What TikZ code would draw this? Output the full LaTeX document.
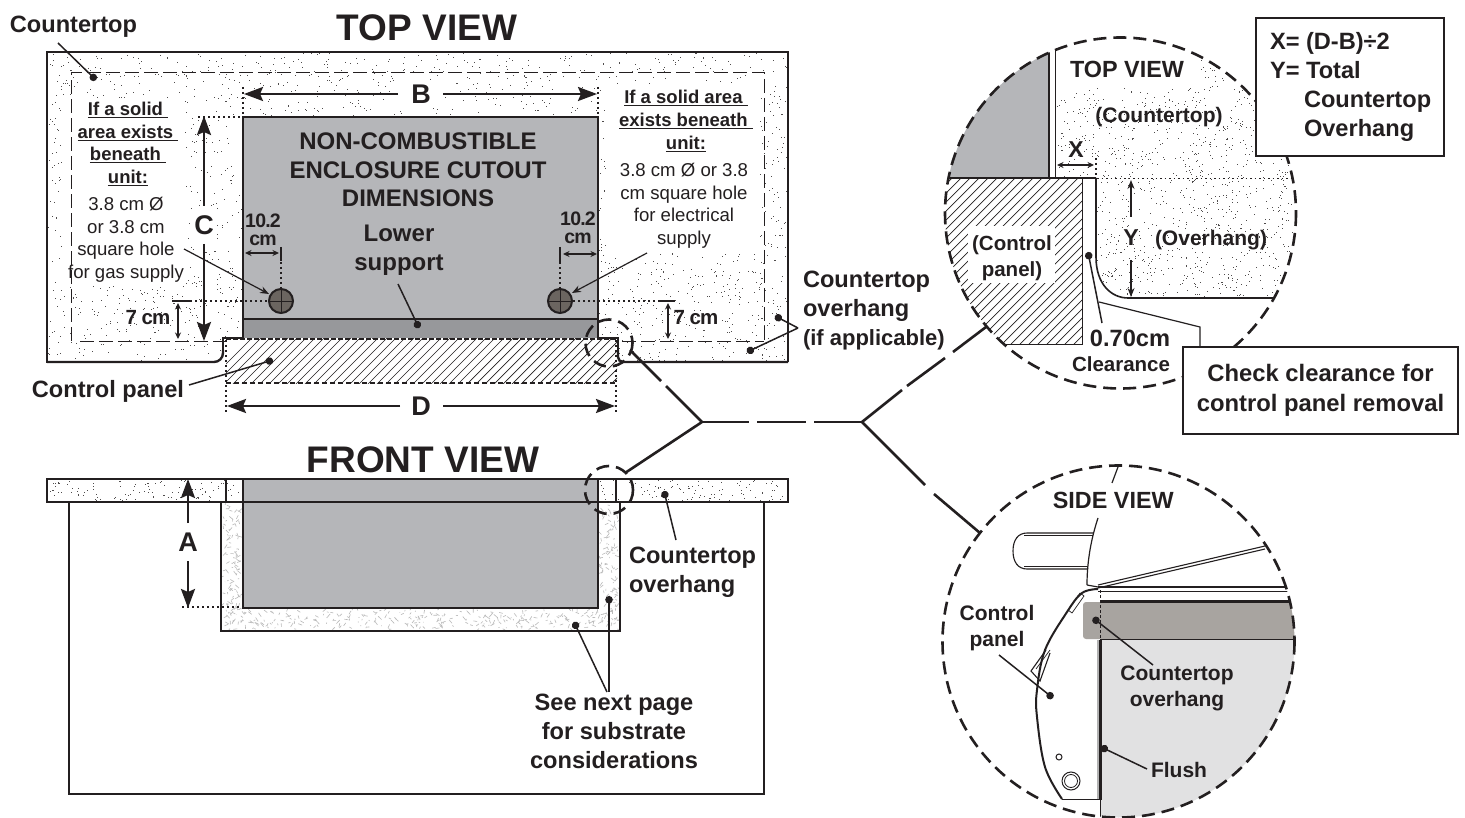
\documentclass[tikz,border=0pt]{standalone}
\usepackage{fontspec}
\setmainfont{Liberation Sans}
\usetikzlibrary{arrows.meta,calc}
\definecolor{ink}{HTML}{231F20}
\definecolor{encl}{HTML}{B5B6B9}
\definecolor{supp}{HTML}{97989B}
\definecolor{holec}{HTML}{6B6560}
\definecolor{band}{HTML}{A8A4A0}
\definecolor{lgray}{HTML}{E1E1E2}
\newcommand\fsz[2]{\fontsize{#1}{#2}\selectfont}
\newcommand\tight[1]{\addfontfeature{LetterSpace=#1}}
\newcommand\stipplebox[5]{%
  \foreach \i in {1,...,#5}{%
    \pgfmathsetmacro\px{#1+rnd*(#3-#1)}%
    \pgfmathsetmacro\py{#2+rnd*(#4-#2)}%
    \fill[ink!80] (\px,\py) rectangle +(1,1);}}
\newcommand\fibrebox[5]{%
  \foreach \i in {1,...,#5}{%
    \pgfmathsetmacro\px{#1+rnd*(#3-#1)}%
    \pgfmathsetmacro\py{#2+rnd*(#4-#2)}%
    \pgfmathsetmacro\qx{rnd*8-4}%
    \pgfmathsetmacro\qy{rnd*8-4}%
    \draw[gray!55,line width=.6pt] (\px,\py) -- +(\qx,\qy);}}
\tikzset{
  x=1pt,y=-1pt,
  every node/.style={inner sep=0pt,outer sep=0pt,text=ink},
  ttl/.style={font=\fsz{37}{44}\bfseries},
  big/.style={font=\fsz{27}{32}\bfseries},
  lab/.style={font=\fsz{23.6}{29}\bfseries,align=center},
  labl/.style={font=\fsz{23.6}{29}\bfseries,align=left},
  encltxt/.style={font=\fsz{24}{28.7}\bfseries,align=center},
  headtxt/.style={font=\fsz{18.5}{22.7}\bfseries,align=center},
  regtxt/.style={font=\fsz{18.6}{22.5},align=center},
  dimtxt/.style={font=\fsz{19.5}{18.5}\bfseries\tight{-4},align=center},
  sevencm/.style={font=\fsz{20.5}{22}\bfseries\tight{-5}},
  cir/.style={font=\fsz{21}{26}\bfseries,align=center},
  cirh/.style={font=\fsz{23.4}{28}\bfseries,align=center},
  bigarrow/.style={draw=ink,line width=2.4pt,-{Stealth[length=19pt,width=14pt,inset=3pt]}},
  smalldim/.style={draw=ink,line width=1.2pt,{Stealth[length=6.5pt,width=6pt]}-{Stealth[length=6.5pt,width=6pt]}},
  thinarrow/.style={draw=ink,line width=1.2pt,-{Stealth[length=9pt,width=7pt]}},
  leader/.style={draw=ink,line width=1.5pt,-{Circle[length=7.5pt]}},
  dotline/.style={draw=ink,line width=2.2pt,dash pattern=on 2pt off 3pt},
  heavy/.style={draw=ink,line width=2.4pt},
  medium/.style={draw=ink,line width=1.6pt},
  inner dash/.style={draw=ink,line width=.9pt,dash pattern=on 14pt off 5pt},
  zoomring/.style={draw=ink,line width=2.6pt,dash pattern=on 13pt off 7pt},
  branch/.style={draw=ink,line width=2.6pt},
  hatchline/.style={draw=ink,line width=.7pt},
}
\begin{document}
\begin{tikzpicture}
\useasboundingbox (0,0) rectangle (1465,818);
\fill[white] (0,0) rectangle (1465,818);
\pgfmathsetseed{4711}

%% ===== TOP VIEW =====
\begin{scope}
  \clip (47,52) rectangle (788,362);
  \stipplebox{47}{52}{788}{362}{3200}
\end{scope}
\fill[white] (62,98) rectangle (185,285);
\fill[white] (606,84) rectangle (760,253);
\fill[white] (398,80) rectangle (443,108);
\fill[white] (192,206) rectangle (217,245);
\fill[white] (224,339) rectangle (617,390);
\fill[white] (617,363) rectangle (640,390);
\fill[white] (205,363) rectangle (224,390);
% enclosure
\fill[encl] (243,117) rectangle (598,338);
\fill[supp] (243,319) rectangle (598,338);
\draw[medium] (243,319) -- (598,319);
\draw[medium] (243,338) -- (243,117) -- (598,117) -- (598,338);
% counter outline
\draw[heavy] (243,338) -- (223,338) -- (223,350);
\draw[heavy,rounded corners=9pt] (223,350) -- (223,362) -- (47,362);
\draw[heavy] (47,363) -- (47,52) -- (788,52) -- (788,362);
\draw[heavy,rounded corners=5pt] (788,362) -- (618,362) -- (618,350);
\draw[heavy] (618,350) -- (618,338) -- (598,338);
% inner dashed outline
\draw[inner dash] (71,341) -- (71,72) -- (764,72) -- (764,341);
\draw[inner dash] (80,341) -- (225,341);
\draw[inner dash] (622,341) -- (764,341);
% hatched panel
\begin{scope}
  \clip (226,339) rectangle (617,383);
  \foreach \k in {0,9,...,460}{\draw[hatchline] (200+\k,390) -- (260+\k,330);}
\end{scope}
\draw[draw=ink,line width=1.8pt,dash pattern=on 5pt off 2pt] (226,339) -- (617,339);
\draw[draw=ink,line width=1.1pt,dash pattern=on 5pt off 3pt] (226,383) -- (617,383);
\draw[dotline] (226,340) -- (226,412);
\draw[dotline] (616,340) -- (616,412);

\node[ttl,anchor=base] (toptitle) at (427,41) {TOP VIEW};
\node[font=\fsz{23.6}{28}\bfseries,anchor=base] (ctlabel) at (73.5,33) {Countertop};
\coordinate (ct1) at (58,43); \coordinate (ct2) at (96,80);
\draw[leader] (ct1) -- (ct2);

% B
\node[big,anchor=center] (bB) at (421,94) {B};
\coordinate (b1) at (398,94); \coordinate (b2) at (244,94);
\coordinate (b3) at (443,94); \coordinate (b4) at (597,94);
\draw[bigarrow] (b1) -- (b2); \draw[bigarrow] (b3) -- (b4);
\draw[dotline] (243,87) -- (243,117);
\draw[dotline] (598,87) -- (598,117);
% C
\node[big,anchor=center] (cC) at (204,225) {C};
\coordinate (c1) at (204,206); \coordinate (c2) at (204,116);
\coordinate (c3) at (204,244); \coordinate (c4) at (204,341);
\draw[bigarrow] (c1) -- (c2); \draw[bigarrow] (c3) -- (c4);
\draw[dotline] (198,117) -- (243,117);
% D
\node[big,anchor=center] (dD) at (421,406) {D};
\coordinate (d1) at (400,406); \coordinate (d2) at (227,406);
\coordinate (d3) at (443,406); \coordinate (d4) at (615,406);
\draw[bigarrow] (d1) -- (d2); \draw[bigarrow] (d3) -- (d4);

% text in the enclosure
\node[encltxt] (encl) at (418,170) {NON-COMBUSTIBLE\\ENCLOSURE CUTOUT\\DIMENSIONS};
\node[lab,font=\fsz{24}{29.5}\bfseries] (lower) at (399,250) {Lower\\support};
\coordinate (ls1) at (398,284); \coordinate (ls2) at (419,328);
\draw[leader] (ls1) -- (ls2);

% holes
\node[circle,draw=ink,line width=2pt,fill=holec,minimum size=24pt] (holeL) at (281,301) {};
\node[circle,draw=ink,line width=2pt,fill=holec,minimum size=24pt] (holeR) at (560,301) {};
\foreach \c in {281,560}{
  \draw[draw=ink,line width=.6pt] (\c-12,301) -- (\c+12,301) (\c,289) -- (\c,313);}
% 10.2
\node[dimtxt] (tenL) at (263,230) {10.2\\cm};
\node[dimtxt] (tenR) at (578,228) {10.2\\cm};
\coordinate (t1a) at (245,253); \coordinate (t1b) at (279,253);
\coordinate (t2a) at (563,254); \coordinate (t2b) at (597,254);
\draw[smalldim] (t1a) -- (t1b);
\draw[smalldim] (t2a) -- (t2b);
\draw[draw=ink,line width=2pt] (281,247) -- (281,261);
\draw[draw=ink,line width=2pt] (560,247) -- (560,262);
\draw[dotline] (281,262) -- (281,288);
\draw[dotline] (560,262) -- (560,288);
% 7 cm
\draw[dotline] (190,301) -- (268,301);
\draw[dotline] (573,301) -- (660,301);
\draw[draw=ink,line width=2pt] (172,301) -- (190,301);
\draw[draw=ink,line width=2pt] (659,301) -- (675,301);
\coordinate (s1a) at (178,303); \coordinate (s1b) at (178,339);
\coordinate (s2a) at (668,303); \coordinate (s2b) at (668,339);
\draw[smalldim] (s1a) -- (s1b);
\draw[smalldim] (s2a) -- (s2b);
\node[sevencm,anchor=base] (sevL) at (148,324.5) {7 cm};
\node[sevencm,anchor=base] (sevR) at (696,325) {7 cm};

% side notes
\node[headtxt] (hdL) at (128,144) {\underline{If a solid\ }\\\underline{area exists\ }\\\underline{beneath\ }\\\underline{unit:}};
\node[regtxt] (rgL) at (126,240) {3.8 cm Ø\\or 3.8 cm\\square hole\\for gas supply};
\node[headtxt] (hdR) at (686,121) {\underline{If a solid area\ }\\\underline{exists beneath\ }\\\underline{unit:}};
\node[regtxt] (rgR) at (684,206) {3.8 cm Ø or 3.8\\cm square hole\\for electrical\\supply};
\coordinate (g1) at (184,249); \coordinate (g2) at (269,294);
\coordinate (e1) at (647,253); \coordinate (e2) at (572,293);
\draw[thinarrow] (g1) -- (g2);
\draw[thinarrow] (e1) -- (e2);

\node[lab,anchor=base] (cp) at (108,397) {Control panel};
\coordinate (cp1) at (189,385); \coordinate (cp2) at (273,360);
\draw[leader] (cp1) -- (cp2);

\node[labl,anchor=west] (coh) at (803,311) {Countertop\\overhang\\{\fsz{22}{29}\bfseries(if applicable)}};
\coordinate (co0) at (798,328); \coordinate (co1) at (775,316); \coordinate (co2) at (747,352);
\draw[leader] (co0) -- (co1);
\draw[leader] (co0) -- (co2);

%% ===== FRONT VIEW =====
\node[ttl,anchor=base] (fronttitle) at (423,472) {FRONT VIEW};
\begin{scope}
  \clip (47,479) rectangle (788,502);
  \stipplebox{47}{479}{788}{502}{420}
\end{scope}
\fibrebox{223}{504}{241}{629}{110}
\fibrebox{600}{504}{618}{629}{110}
\fibrebox{225}{610}{618}{629}{300}
\fill[white] (215,630.5) rectangle (630,640);
\fill[white] (212,503) rectangle (220,640);
\fill[white] (621,503) rectangle (630,640);
\fill[encl] (243,479) rectangle (598,608);
\draw[medium] (69,502) -- (69,794) -- (764,794) -- (764,502);
\draw[heavy] (221,502) -- (221,631) -- (620,631) -- (620,502);
\draw[medium] (243,480) -- (243,608) -- (598,608) -- (598,480);
\draw[heavy] (47,479) -- (788,479) -- (788,502) -- (47,502) -- cycle;
\draw[draw=ink,line width=1.2pt] (226,479) -- (226,502);
\draw[draw=ink,line width=1.2pt] (616,479) -- (616,502);

\node[big,anchor=center] (aA) at (188,542) {A};
\coordinate (a1) at (188,523); \coordinate (a2) at (188,479);
\coordinate (a3) at (188,561); \coordinate (a4) at (188,608);
\draw[bigarrow] (a1) -- (a2); \draw[bigarrow] (a3) -- (a4);
\draw[dotline] (182,607) -- (243,607);

\node[labl,anchor=west] (coh2) at (629,572) {Countertop\\overhang};
\coordinate (fc1) at (676,540); \coordinate (fc2) at (664,491);
\draw[leader] (fc1) -- (fc2);
\node[lab] (nextp) at (614,731) {See next page\\for substrate\\considerations};
\coordinate (np0) at (609,692); \coordinate (np1) at (609,596);
\coordinate (np2) at (607,692); \coordinate (np3) at (574,622);
\draw[leader] (np0) -- (np1);
\draw[leader] (np2) -- (np3);

%% ===== Branch connectors =====
\draw[zoomring] (609,343) circle (23.5);
\draw[zoomring] (609,490) circle (24);
\coordinate (hubA) at (702,422);
\coordinate (hubB) at (862,422);
\coordinate (r1a) at (630,350); \coordinate (r1b) at (661,381); \coordinate (r1c) at (666,386);
\draw[branch] (r1a) -- (r1b);
\draw[branch] (r1c) -- (hubA);
\coordinate (r2) at (625,473);
\draw[branch] (r2) -- (hubA);
\coordinate (m1) at (749,422); \coordinate (m2) at (757,422); \coordinate (m3) at (806,422); \coordinate (m4) at (814,422);
\draw[branch] (hubA) -- (m1);
\draw[branch] (m2) -- (m3);
\draw[branch] (m4) -- (hubB);
\coordinate (u1) at (902,390); \coordinate (u2) at (907,386); \coordinate (u3) at (945,358); \coordinate (u4) at (953,352); \coordinate (u5) at (986,327);
\draw[branch] (hubB) -- (u1);
\draw[branch] (u2) -- (u3);
\draw[branch] (u4) -- (u5);
\coordinate (v1) at (925,485); \coordinate (v2) at (934,494); \coordinate (v3) at (980,533);
\draw[branch] (hubB) -- (v1);
\draw[branch] (v2) -- (v3);

%% ===== Zoom circle: top view =====
\begin{scope}
  \clip (1120.5,213) circle (175.5);
  \fill[encl] (930,30) rectangle (1049,178);
  \stipplebox{1055}{38}{1297}{298}{1400}
  \fill[white] (1055,30) rectangle (1200,88);
  \fill[white] (1050,179) rectangle (1096,300);
  \fill[white] (1096,257) .. controls (1096,285) and (1112,298) .. (1128,298) -- (1096,298) -- cycle;
  \fill[white] (1050,298.5) rectangle (1300,400);
  \fill[white] (1049.5,30) rectangle (1055,178);
  \begin{scope}
    \clip (930,179) rectangle (1082,345);
    \foreach \k in {-220,-211,...,200}{\draw[hatchline] (900+\k,360) -- (1100+\k,160);}
  \end{scope}
  \fill[white] (968,226) rectangle (1055,283);
  \draw[medium] (1049,30) -- (1049,178);
  \draw[draw=ink,line width=1pt] (1055,30) -- (1055,178);
  \draw[medium] (930,178) -- (1096,178);
  \draw[draw=ink,line width=1pt] (1082,178) -- (1082,345) -- (1003,345);
  \draw[medium] (1096,178) -- (1096,257) .. controls (1096,285) and (1112,298) .. (1128,298) -- (1275,298);
  \draw[draw=ink,line width=.9pt,dash pattern=on 1.5pt off 3pt] (1097,178) -- (1297,178);
\end{scope}
\draw[dotline,line width=1.5pt] (1096,158) -- (1096,178);
\draw[zoomring] (1120.5,213) circle (175.5);
\node[cirh,anchor=base] (tv2) at (1127,78) {TOP VIEW};
\node[cir,anchor=base] (ctp) at (1159,123) {(Countertop)};
\node[cir,font=\fsz{20.5}{26}\bfseries,anchor=center] (cpp) at (1012,258) {(Control\\panel)};
\node[cir,anchor=base] (ohg) at (1211,246) {(Overhang)};
\node[font=\fsz{23}{26}\bfseries,anchor=base] (xX) at (1076,158) {X};
\coordinate (x1) at (1057,165); \coordinate (x2) at (1094,165);
\draw[smalldim] (x1) -- (x2);
\node[font=\fsz{23}{26}\bfseries,anchor=base] (yY) at (1131,246) {Y};
\coordinate (y1) at (1131,217); \coordinate (y2) at (1131,180);
\coordinate (y3) at (1131,260); \coordinate (y4) at (1131,297);
\draw[thinarrow] (y1) -- (y2);
\draw[thinarrow] (y3) -- (y4);
\node[font=\fsz{23.6}{28}\bfseries,anchor=base] (sevz) at (1130,347) {0.70cm};
\node[font=\fsz{20.5}{25}\bfseries,anchor=base] (clr) at (1121,372) {Clearance};
\coordinate (k1) at (1102,323); \coordinate (k2) at (1088,252);
\draw[leader] (k1) -- (k2);

% check box
\node[draw=ink,line width=1.2pt,fill=white,minimum width=275pt,minimum height=87pt,font=\fsz{23.8}{30}\bfseries,align=center] (chk) at (1320.5,390.5) {Check clearance for\\control panel removal};
\coordinate (q1) at (1099,302); \coordinate (q2) at (1200,327); \coordinate (q3) at (1200,347);
\draw[draw=ink,line width=1.2pt] (q1) -- (q2) -- (q3);
% formula box
\fill[white,draw=ink,line width=1.2pt] (1256,18) rectangle (1444,156);
\node[labl,anchor=west] (frm) at (1270,87) {X= (D-B)÷2\\Y= Total\\\hspace*{34pt}Countertop\\\hspace*{34pt}Overhang};

%% ===== Zoom circle: side view =====
\begin{scope}
  \clip (1118.5,641.5) circle (176);
  \fill[lgray] (1100,639) rectangle (1300,820);
  \fill[band,rounded corners=3pt] (1083,602) rectangle (1320,639);
  \draw[heavy] (1100,601.5) -- (1300,601.5);
  \draw[draw=ink,line width=1pt] (1100,639) -- (1300,639);
  \draw[draw=ink,line width=1.3pt] (1098,587) -- (1300,587);
  \draw[draw=ink,line width=.8pt] (1098,591) -- (1300,591);
  \fill[gray!60] (1097,640) rectangle (1099,800);
  \draw[heavy] (1100.5,640) -- (1100.5,800);
  \draw[draw=ink,line width=.8pt] (1100.5,800) -- (1100.5,820);
\end{scope}
\draw[draw=ink,line width=.7pt,dash pattern=on 3pt off 2pt] (1100.5,590) -- (1100.5,640);
\draw[draw=ink,line width=1.1pt] (1098,585) -- (1265,546);
\draw[draw=ink,line width=1.1pt] (1098,588) -- (1265,549);
\draw[draw=ink,line width=1.2pt] (1087,585) -- (1098,587);
\draw[draw=ink,line width=1.2pt] (1098,518) .. controls (1090,542) and (1087,565) .. (1087,585);
\draw[draw=ink,line width=1.2pt] (1112,483) -- (1118,467);
\draw[draw=ink,line width=1.1pt] (1093,533) -- (1027,533) .. controls (1018,533) and (1013,540) .. (1013,551) .. controls (1013,562) and (1018,569) .. (1027,569) -- (1088,569);
\draw[draw=ink,line width=.7pt] (1093,535.5) -- (1024,535.5);
\draw[draw=ink,line width=.7pt] (1088,566.5) -- (1024,566.5);
\draw[draw=ink,line width=2pt] plot[smooth,tension=.6] coordinates {(1098,589) (1082,593) (1067,612) (1045,650) (1037,690) (1037,717) (1045,767) (1062,799)};
\draw[draw=ink,line width=.9pt] (1062,799) -- (1100,799);
\draw[draw=ink,line width=.7pt] (1068,610) -- (1080,593) -- (1084,596) -- (1072,613) -- cycle;
\draw[draw=ink,line width=1.1pt] (1046,650) -- (1031,671) -- (1040,681) -- (1050,653);
\draw[draw=ink,line width=.7pt] (1036,669) -- (1050,650);
\draw[draw=ink,line width=1pt] (1059,757) circle (3);
\draw[draw=ink,line width=1pt] (1071,781) circle (9);
\draw[draw=ink,line width=.8pt] (1071,781) circle (6.5);
\draw[zoomring] (1118.5,641.5) circle (176);
\node[cirh,anchor=base] (sv) at (1113.3,508) {SIDE VIEW};
\node[cir] (cp3) at (997,628) {Control\\panel};
\node[cir] (coh3) at (1177,688) {Countertop\\overhang};
\node[cir,anchor=base] (flush) at (1179,777) {Flush};
\coordinate (z1) at (999,655); \coordinate (z2) at (1053,698);
\coordinate (z3) at (1153,665); \coordinate (z4) at (1093,618);
\coordinate (z5) at (1147,769); \coordinate (z6) at (1101,747);
\draw[leader] (z1) -- (z2);
\draw[leader] (z3) -- (z4);
\draw[leader] (z5) -- (z6);
\end{tikzpicture}
\end{document}
